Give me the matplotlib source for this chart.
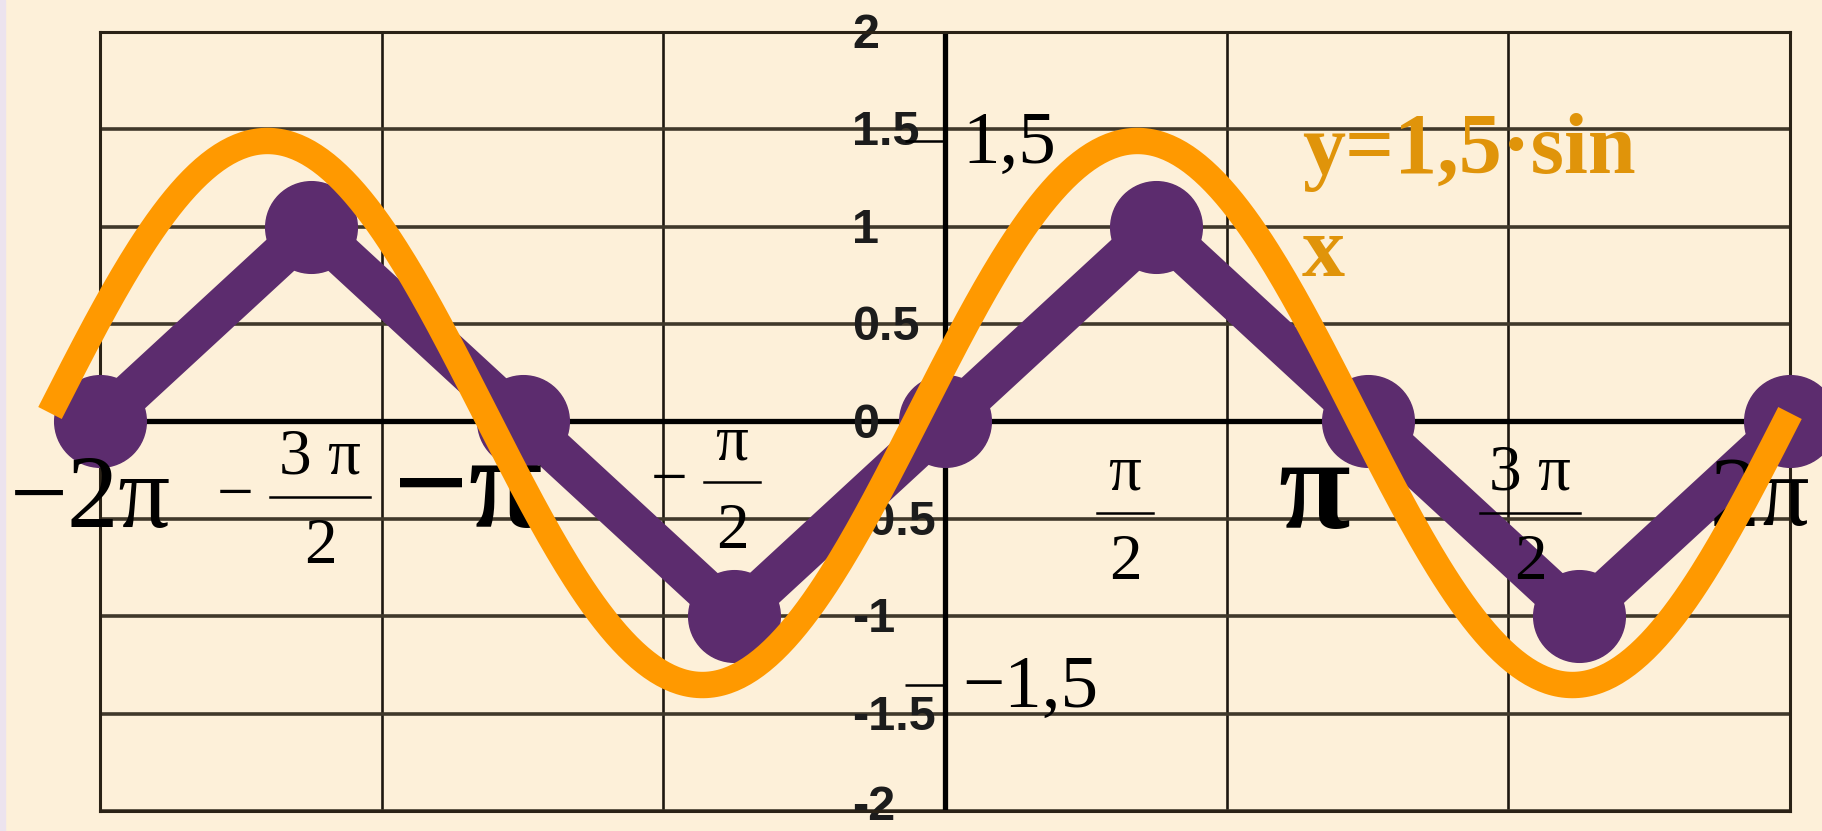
import numpy as np
import matplotlib.pyplot as plt
from matplotlib.lines import Line2D
from matplotlib.patches import Rectangle

# broken line through y = sin x at multiples of pi/2
x_steps = [-4, -3, -2, -1, 0, 1, 2, 3, 4]   # in units of pi/2
y_points = [0, 1, 0, -1, 0, 1, 0, -1, 0]

# scale of the chart's own y axis
y_ticks = [-2, -1.5, -1, -0.5, 0, 0.5, 1, 1.5, 2]
y_tick_labels = ['-2', '-1.5', '-1', '-0.5', '0', '0.5', '1', '1.5', '2']

# y = 1,5 sin x
amplitude = 1.5
amp_ticks = [-1.5, 1.5]
amp_labels = ['−1,5', '1,5']
formula = ['y=1,5·sin', 'x']

# labels under the x axis
whole_labels = ['−2π', '−π', 'π', '2π']
frac_labels = [('−', '3 π', '2'), ('−', 'π', '2'), ('', 'π', '2'), ('', '3 π', '2')]

# ---- layout (pixels of the 1822x831 canvas) ----
W, H = 1822, 831
BG = '#FDF0D9'
PURPLE = '#5C2C6E'
ORANGE = '#FF9900'
ORANGE_TEXT = '#E0940A'
SERIF = 'Liberation Serif'

whole_pos = [(10, 527, 74, 'normal'), (393, 527, 96, 'bold'),
             (1278, 528, 94, 'bold'), (1710, 525, 72, 'normal')]
frac_pos = [(320, 497, 50), (732, 482, 28), (1125, 513, 28), (1530, 513, 50)]


def fx(x):
    return x / W


def fy(y):
    return 1 - y / H


fig = plt.figure(figsize=(W / 100, H / 100), dpi=100, facecolor=BG)
fig.add_artist(Rectangle((0, 0), fx(5), 1, transform=fig.transFigure,
                         color='#ECE3EE', zorder=0))

# chart with grid, axes and the purple line
ax = fig.add_axes([fx(100), fy(811), fx(1790) - fx(100), fy(32) - fy(811)], zorder=0)
ax.set_facecolor(BG)
ax.set_xlim(-2 * np.pi, 2 * np.pi)
ax.set_ylim(-2, 2)
ax.set_xticks(np.linspace(-2 * np.pi, 2 * np.pi, 7))
ax.set_yticks(y_ticks)
ax.tick_params(length=0, labelbottom=False, labelleft=False)
ax.set_axisbelow(True)
ax.xaxis.grid(True, color='#1e1810', lw=1.9)
ax.yaxis.grid(True, color='#40382a', lw=2.6)
for s in ax.spines.values():
    s.set_color('#2a2216')
    s.set_linewidth(2.2)
ax.axhline(0, color='black', lw=3.8, zorder=1)
ax.axvline(0, color='black', lw=3.8, zorder=1)

for v, lbl in zip(y_ticks, y_tick_labels):
    # lift the lowest label a little so it stays on the canvas
    dy = 6 if v == min(y_ticks) else 1
    ax.annotate(lbl, xy=(0, v), xytext=(-67, dy), textcoords='offset points',
                ha='left', va='center_baseline', fontsize=35, fontweight='bold',
                family='Liberation Sans', color='#1c1c1c', zorder=1.5,
                annotation_clip=False)

xs = np.array(x_steps) * np.pi / 2
ax.plot(xs, y_points, color=PURPLE, lw=30, marker='o', ms=66, mec=PURPLE,
        solid_joinstyle='round', solid_capstyle='round', zorder=3, clip_on=False)

# labels for the x axis
for text, (x, base, size, weight) in zip(whole_labels, whole_pos):
    fig.text(fx(x), fy(base), text, ha='left', va='baseline', fontsize=size,
             fontweight=weight, family=SERIF, zorder=1)

for (minus, num, den), (xc, ybar, half) in zip(frac_labels, frac_pos):
    kw = dict(ha='center', va='baseline', fontsize=47, family=SERIF, zorder=1)
    if minus:
        fig.text(fx(xc - half - 35), fy(ybar + 16), minus, **kw)
    fig.text(fx(xc), fy(ybar - 23), num, **kw)
    fig.text(fx(xc), fy(ybar + 66), den, **kw)
    fig.add_artist(Line2D([fx(xc - half), fx(xc + half)], [fy(ybar)] * 2,
                          transform=fig.transFigure, color='black', lw=1.8, zorder=1))

# orange sine on its own layer
ov = fig.add_axes([fx(50), fy(775.7), fx(1790) - fx(50), fy(50.3) - fy(775.7)], zorder=2)
ov.patch.set_visible(False)
ov.set_xlim(-2 * np.pi, 2 * np.pi)
ov.set_ylim(-2, 2)
for s in ov.spines.values():
    s.set_visible(False)
axis_frac = 0.5155   # where the short ticks meet the y axis
ov.spines['left'].set_position(('axes', axis_frac))
ov.set_yticks(amp_ticks)
ov.tick_params(axis='x', bottom=False, labelbottom=False)
ov.tick_params(axis='y', left=True, right=False, labelleft=False, labelright=False,
               direction='out', length=30, width=1.8, color='black')
for v, lbl in zip(amp_ticks, amp_labels):
    ov.annotate(lbl, xy=(axis_frac, v), xycoords=('axes fraction', 'data'),
                xytext=(11, -16), textcoords='offset points', ha='left',
                va='baseline', fontsize=54, family=SERIF, annotation_clip=False)

x = np.linspace(-2 * np.pi, 2 * np.pi, 600)
ov.plot(x, amplitude * np.sin(x), color=ORANGE, lw=19,
        solid_capstyle='butt', clip_on=False)

fig.text(fx(1302), fy(173), formula[0], fontsize=62, fontweight='bold',
         family=SERIF, color=ORANGE_TEXT, va='baseline', zorder=3)
fig.text(fx(1302), fy(276), formula[1], fontsize=62, fontweight='bold',
         family=SERIF, color=ORANGE_TEXT, va='baseline', zorder=3)

fig.savefig('out.png', dpi=100, facecolor=BG)
